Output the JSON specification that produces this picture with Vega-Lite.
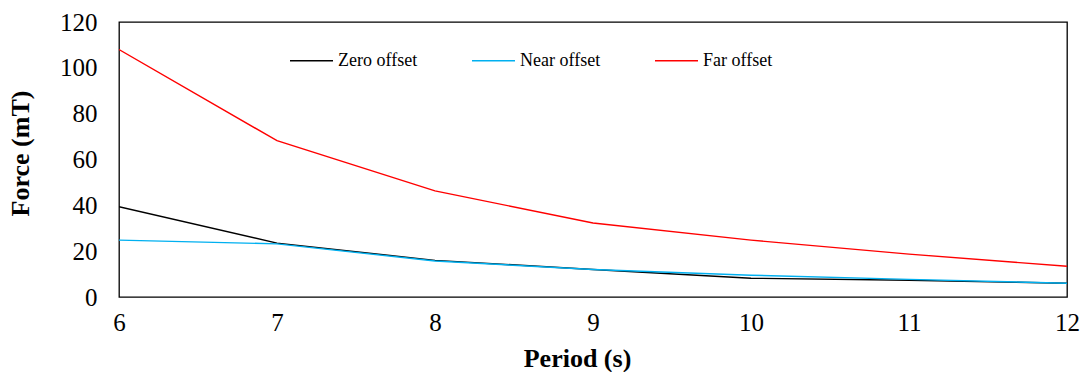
{
  "$schema": "https://vega.github.io/schema/vega-lite/v6.json",
  "autosize": {"type": "none"},
  "padding": {"left": 119, "top": 22, "right": 20, "bottom": 75},
  "width": 948,
  "height": 275,
  "background": "white",
  "config": {
    "font": "Liberation Serif",
    "view": {"stroke": "#000000", "strokeWidth": 1.3},
    "axis": {
      "grid": false,
      "ticks": false,
      "domain": false,
      "labelFont": "Liberation Serif",
      "labelFontSize": 25,
      "labelColor": "#000000",
      "titleFont": "Liberation Serif",
      "titleFontSize": 26,
      "titleFontWeight": "bold",
      "titleColor": "#000000"
    }
  },
  "data": {
    "values": [
      {"period": 6, "force": 39.4, "series": "Zero offset"},
      {"period": 7, "force": 23.5, "series": "Zero offset"},
      {"period": 8, "force": 16.0, "series": "Zero offset"},
      {"period": 9, "force": 12.0, "series": "Zero offset"},
      {"period": 10, "force": 8.2, "series": "Zero offset"},
      {"period": 11, "force": 7.3, "series": "Zero offset"},
      {"period": 12, "force": 6.0, "series": "Zero offset"},
      {"period": 6, "force": 24.8, "series": "Near offset"},
      {"period": 7, "force": 23.2, "series": "Near offset"},
      {"period": 8, "force": 15.7, "series": "Near offset"},
      {"period": 9, "force": 12.0, "series": "Near offset"},
      {"period": 10, "force": 9.5, "series": "Near offset"},
      {"period": 11, "force": 7.7, "series": "Near offset"},
      {"period": 12, "force": 6.0, "series": "Near offset"},
      {"period": 6, "force": 108.0, "series": "Far offset"},
      {"period": 7, "force": 68.2, "series": "Far offset"},
      {"period": 8, "force": 46.3, "series": "Far offset"},
      {"period": 9, "force": 32.3, "series": "Far offset"},
      {"period": 10, "force": 24.8, "series": "Far offset"},
      {"period": 11, "force": 18.7, "series": "Far offset"},
      {"period": 12, "force": 13.4, "series": "Far offset"}
    ]
  },
  "mark": {"type": "line", "strokeWidth": 1.4, "clip": true},
  "encoding": {
    "x": {
      "field": "period",
      "type": "quantitative",
      "scale": {"domain": [6, 12], "nice": false, "zero": false},
      "axis": {
        "title": "Period (s)",
        "values": [6, 7, 8, 9, 10, 11, 12],
        "labelFlush": false,
        "labelPadding": 13,
        "titlePadding": 10,
        "titleX": 458
      }
    },
    "y": {
      "field": "force",
      "type": "quantitative",
      "scale": {"domain": [0, 120], "nice": false},
      "axis": {
        "title": "Force (mT)",
        "values": [0, 20, 40, 60, 80, 100, 120],
        "labelFlush": false,
        "labelPadding": 22,
        "titlePadding": 26,
        "titleY": 131
      }
    },
    "color": {
      "field": "series",
      "type": "nominal",
      "sort": ["Zero offset", "Near offset", "Far offset"],
      "scale": {
        "domain": ["Zero offset", "Near offset", "Far offset"],
        "range": ["#000000", "#00B0F0", "#FF0000"]
      },
      "legend": {
        "title": null,
        "orient": "none",
        "direction": "horizontal",
        "legendX": 170,
        "legendY": 16,
        "symbolType": "stroke",
        "symbolSize": 1849,
        "symbolStrokeWidth": 1.5,
        "labelFont": "Liberation Serif",
        "labelFontSize": 18,
        "labelColor": "#000000",
        "labelOffset": 4,
        "columnPadding": 51
      }
    }
  }
}
